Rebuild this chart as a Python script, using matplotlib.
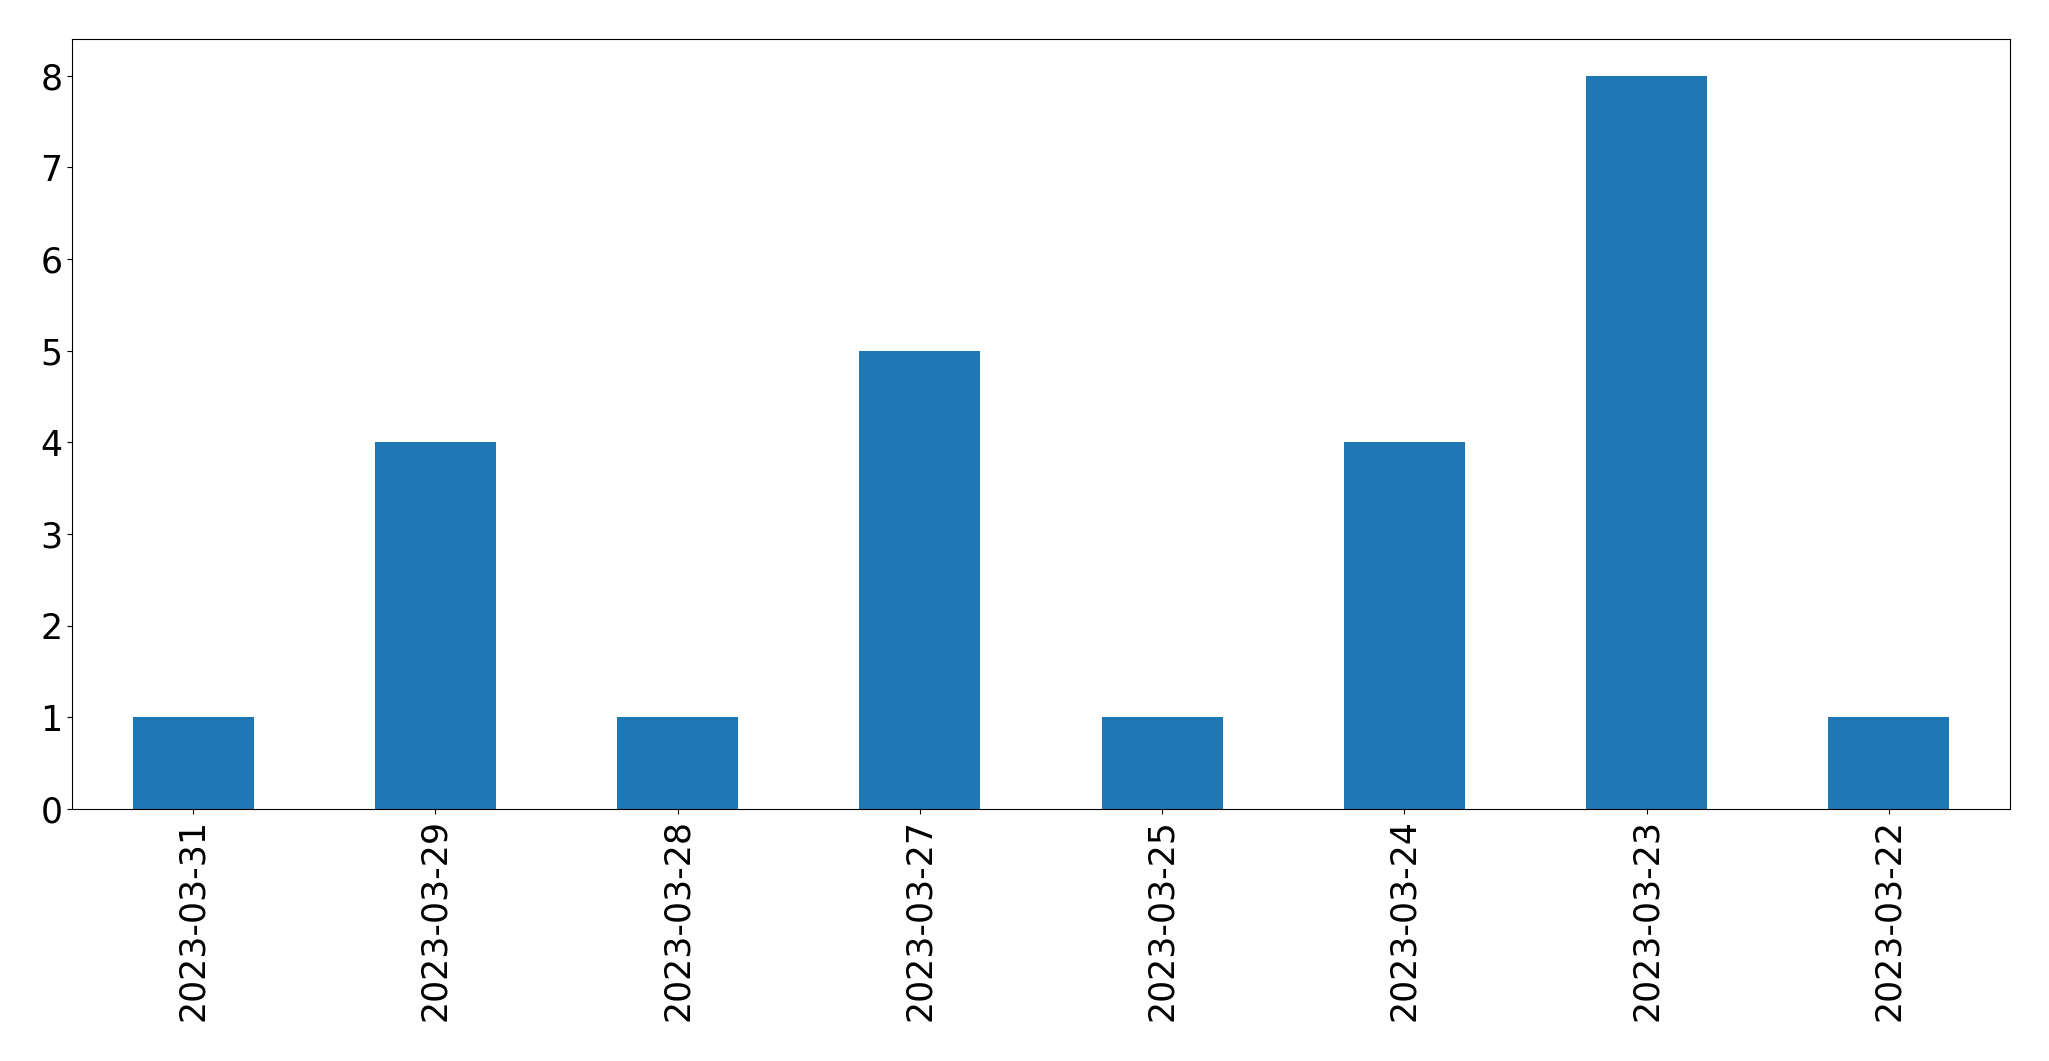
import pandas as pd
import matplotlib
matplotlib.use("Agg")
import matplotlib.pyplot as plt

# daily counts, in the order shown on the chart
dates = ["2023-03-31", "2023-03-29", "2023-03-28", "2023-03-27",
         "2023-03-25", "2023-03-24", "2023-03-23", "2023-03-22"]
counts = [1, 4, 1, 5, 1, 4, 8, 1]

s = pd.Series(counts, index=dates)

fig = plt.figure(figsize=(20.49, 10.61), dpi=100)
ax = fig.add_axes([72 / 2049, (1061 - 809) / 1061,
                   (2010 - 72) / 2049, (809 - 39) / 1061])
s.plot(kind="bar", ax=ax, color="#1f77b4")
ax.tick_params(axis="both", labelsize=25)

fig.savefig("out.png", dpi=100)
